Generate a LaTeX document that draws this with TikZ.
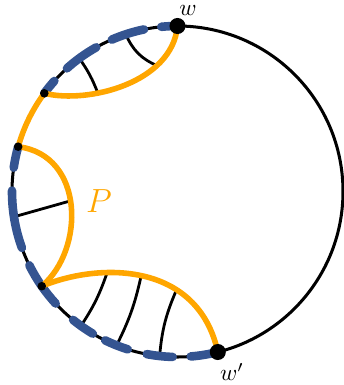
\documentclass[tikz,border=0pt]{standalone}
\definecolor{porange}{RGB}{255,166,0}
\definecolor{pblue}{RGB}{52,84,145}
\begin{document}
\begin{tikzpicture}[x=0.43pt,y=0.43pt,
  bd/.style={line width=1.3pt},
  chord/.style={line width=1.2pt},
  pathP/.style={draw=porange,line width=2.4pt},
  bluedash/.style={draw=pblue,line width=3.7pt,line cap=round},
  bigdot/.style={circle,fill=black,inner sep=0pt,minimum size=6.9pt},
  smalldot/.style={circle,fill=black,inner sep=0pt,minimum size=3.7pt},
  lbl/.style={inner sep=0pt}]
\def\R{165.5}
\useasboundingbox (-177.5,-193.5) rectangle (165.5,191.5);
\coordinate (O) at (0,0);
\coordinate (w) at (90:\R);
\coordinate (A) at (143.6:\R);
\coordinate (B) at (164.3:\R);
\coordinate (C) at (214.9:\R);
\coordinate (wp) at (284.1:\R);
% boundary circle
\draw[bd] (O) circle[radius=\R];
% chords
\coordinate (t1) at (108.2:\R);   \coordinate (t1e) at (-19.5,125.5);
\coordinate (t2) at (126.4:\R);   \coordinate (t2e) at (-79.5,98);
\coordinate (m1) at (188.8:\R);   \coordinate (m1e) at (-107.5,-9.5);
\coordinate (b1) at (234.3:\R);   \coordinate (b1e) at (-71,-83);
\coordinate (b2) at (248.4:\R);   \coordinate (b2e) at (-36.5,-85);
\coordinate (b3) at (263.8:\R);   \coordinate (b3e) at (-1.5,-99.5);
\draw[chord] (t1) to[bend right=22] (t1e);
\draw[chord] (t2) to[bend left=7] (t2e);
\draw[chord] (m1) -- (m1e);
\draw[chord] (b1) to[bend right=7] (b1e);
\draw[chord] (b2) to[bend right=7] (b2e);
\draw[chord] (b3) to[bend left=9] (b3e);
% blue dashes on the boundary
\foreach \a/\b in {90/95.6, 101.7/113.4, 119.4/131.9, 138.1/143.6,
                   164.3/171.7, 179.7/199.9, 206.5/222.6,
                   230.9/239.2, 244.1/252.5, 259.3/268.3, 274.6/284.1}
  \draw[bluedash] (\a:\R) arc[start angle=\a, end angle=\b, radius=\R];
% path P
\draw[pathP] (A) arc[start angle=143.6, end angle=164.3, radius=\R];
\draw[pathP] (w) .. controls (-5.5,108.5) and (-89.5,87.5) .. (A);
\draw[pathP] (B) .. controls (-92.5,36.5) and (-92.5,-58.5) .. (C);
\draw[pathP] (C) .. controls (-77.5,-70.5) and (20.5,-70.5) .. (wp);
% dots
\node[bigdot] (wdot) at (w) {};
\node[bigdot] (wpdot) at (wp) {};
\node[smalldot] (Adot) at (A) {};
\node[smalldot] (Bdot) at (B) {};
\node[smalldot] (Cdot) at (C) {};
% labels
\node[lbl] (lw) at (10.5,181) {$w$};
\node[lbl] (lwp) at (54.5,-180.5) {$w'$};
\node[lbl,text=porange,font=\fontsize{13.7}{16}\selectfont] (lP) at (-78.5,-9.5) {$P$};
\end{tikzpicture}
\end{document}
